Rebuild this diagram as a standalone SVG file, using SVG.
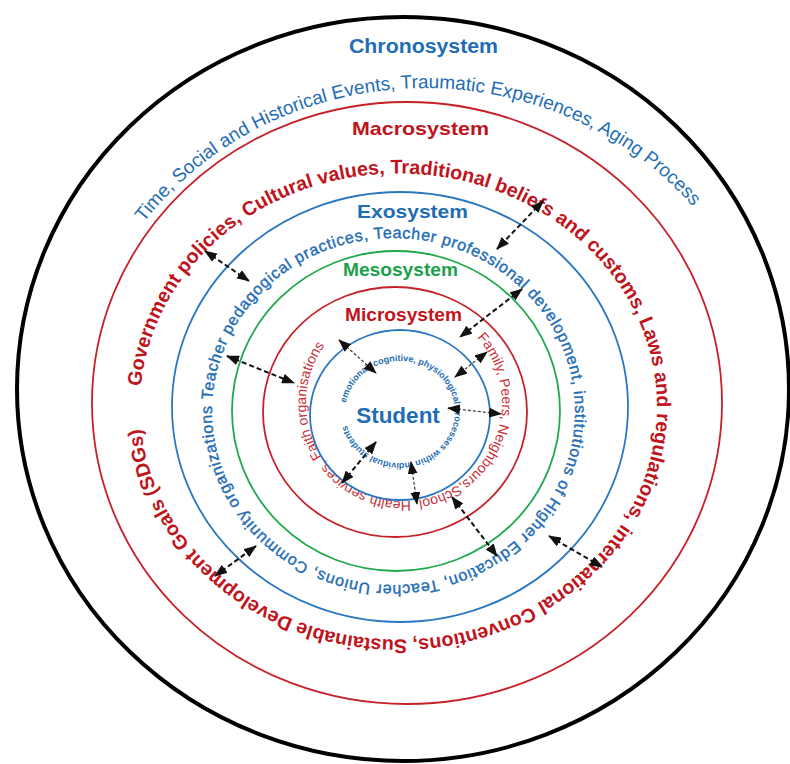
<svg xmlns="http://www.w3.org/2000/svg" width="790" height="764" viewBox="0 0 790 764">
<style>
text{font-family:"Liberation Sans",Arial,sans-serif}
.ring{fill:none;stroke-width:1.8}
.blue{stroke:#2b78c0}
.red{stroke:#c62128}
.green{stroke:#20a84d}
.black{stroke:#000;stroke-width:4}
.tb{fill:#1f6db4}
.tr{fill:#c0141c}
.tg{fill:#1ca14b}
.lbl{font-weight:bold;text-anchor:middle}
.arr{fill:none;stroke:#111;marker-start:url(#ah);marker-end:url(#ah)}
.a1{stroke-width:2;stroke-dasharray:5 3}
.a2{stroke-width:1.3;stroke-dasharray:3 2;stroke:#444}
</style>
<defs>
<marker id="ah" markerUnits="userSpaceOnUse" viewBox="0 0 13 10" markerWidth="13" markerHeight="10" refX="12" refY="5" orient="auto-start-reverse"><path d="M0,0 L13,5 L0,10 z" fill="#111"/></marker>
<path id="chronoPath" d="M75,420 A350,332 0 0 1 775,420"/>
<path id="macroPath" d="M140,406.5 A258.5,233 0 1 1 657,406.5 A258.5,233 0 1 1 140,406.5"/>
<path id="exoPath" d="M212,411.5 A181.5,173.5 0 1 1 575,411.5 A181.5,173.5 0 1 1 212,411.5 A181.5,173.5 0 0 1 393.5,238"/>
<path id="microPath" d="M404,305 A98,98 0 1 1 404,501 A98,98 0 1 1 404,305"/>
<path id="innerPath" d="M345,412 A55,51 0 1 1 455,412 A55,51 0 1 1 345,412"/>
</defs>
<rect width="790" height="764" fill="#fff"/>

<g id="chronosystem">
<ellipse class="ring black" cx="403" cy="389" rx="386" ry="372"/>
<text class="lbl tb" x="423.5" y="53" font-size="20" textLength="149" lengthAdjust="spacingAndGlyphs">Chronosystem</text>
<text class="tb" font-size="19" text-anchor="middle"><textPath href="#chronoPath" startOffset="525">Time, Social and Historical Events, Traumatic Experiences, Aging Process</textPath></text>
</g>

<g id="macrosystem">
<ellipse class="ring red" cx="407" cy="403" rx="315" ry="301"/>
<text class="lbl tr" x="420.5" y="135" font-size="19" textLength="137" lengthAdjust="spacingAndGlyphs">Macrosystem</text>
<text class="tr" font-size="19.7" font-weight="bold"><textPath href="#macroPath" startOffset="20">Government policies, Cultural values, Traditional beliefs and customs, Laws and regulations, international Conventions, Sustainable Development Goals (SDGs)</textPath></text>
</g>

<g id="exosystem">
<ellipse class="ring blue" cx="400" cy="407" rx="228" ry="215"/>
<text class="lbl tb" x="412.5" y="218" font-size="18.5" textLength="111" lengthAdjust="spacingAndGlyphs">Exosystem</text>
<text class="tb" font-size="16" letter-spacing="0.74" stroke="#1f6db4" stroke-width="0.4"><textPath href="#exoPath" startOffset="11.5">Teacher pedagogical practices, Teacher professional development, institutions of Higher Education, Teacher Unions, Community organizations</textPath></text>
</g>

<g id="mesosystem">
<ellipse class="ring green" cx="396" cy="411" rx="164" ry="160"/>
<text class="lbl tg" x="400.5" y="276" font-size="17.5" textLength="115" lengthAdjust="spacingAndGlyphs">Mesosystem</text>
</g>

<g id="microsystem">
<ellipse class="ring red" cx="395" cy="412" rx="132" ry="125"/>
<text class="lbl tr" x="403.5" y="321" font-size="17.5" textLength="117" lengthAdjust="spacingAndGlyphs">Microsystem</text>
<text fill="#c8303a" font-size="14"><textPath href="#microPath" startOffset="82">Family, Peers, Neighbours,School, Health services, Faith organisations</textPath></text>
</g>

<g id="student">
<ellipse class="ring blue" cx="400" cy="415" rx="90" ry="85"/>
<text class="lbl tb" x="398" y="423" font-size="22.5">Student</text>
<text class="tb" font-size="9" font-weight="bold"><textPath href="#innerPath" startOffset="9">emotional, cognitive, physiological processes within individual students</textPath></text>
</g>

<g id="connectors">
<line class="arr a1" x1="205" y1="251" x2="249" y2="281"/>
<line class="arr a1" x1="543" y1="201" x2="497" y2="249"/>
<line class="arr a1" x1="522" y1="289" x2="460" y2="337"/>
<line class="arr a1" x1="227" y1="356" x2="294" y2="383"/>
<line class="arr a2" x1="339" y1="340" x2="376" y2="373"/>
<line class="arr a2" x1="487" y1="352" x2="455" y2="377"/>
<line class="arr a2" x1="448" y1="408" x2="501" y2="414"/>
<line class="arr a1" x1="376" y1="442" x2="342" y2="483"/>
<line class="arr a2" x1="411" y1="462" x2="417" y2="504"/>
<line class="arr a1" x1="452" y1="497" x2="497" y2="556"/>
<line class="arr a1" x1="549" y1="536" x2="602" y2="567"/>
<line class="arr a1" x1="215" y1="576" x2="256" y2="546"/>
</g>
</svg>
